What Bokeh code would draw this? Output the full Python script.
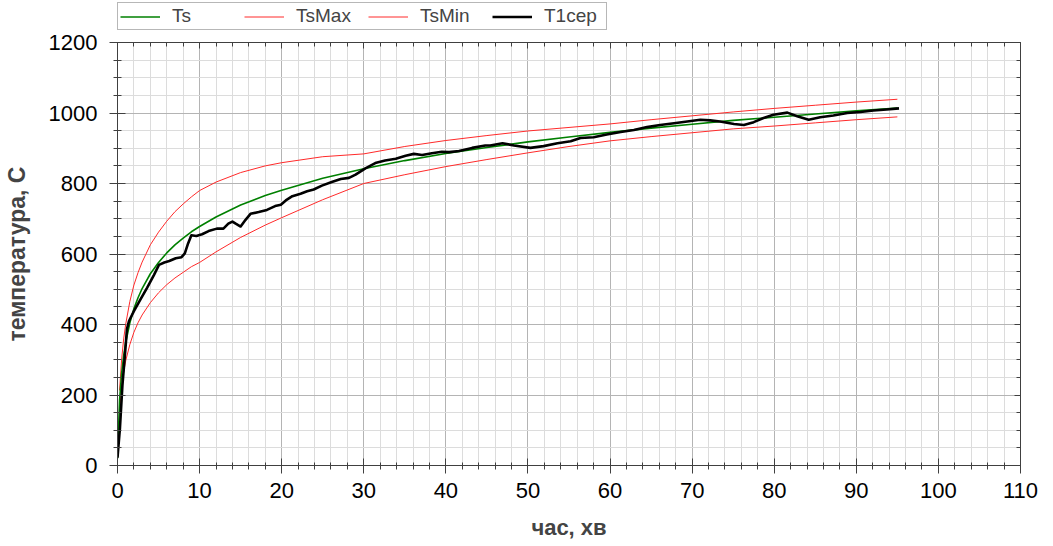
from bokeh.plotting import figure
from bokeh.layouts import column
from bokeh.models import LinearAxis, SingleIntervalTicker, Range1d, Legend, LegendItem
from bokeh.embed import file_html
from bokeh.resources import INLINE

# ---- data ----
t_std = [0, 0.25, 0.5, 0.75, 1, 1.5, 2, 2.5, 3, 4, 5, 6, 7, 8, 9, 10, 12, 15, 18, 20,
         25, 30, 35, 40, 45, 50, 55, 60, 65, 70, 75, 80, 85, 90, 95]
ts = [20, 185, 261, 312, 349, 404, 445, 476, 502, 544, 576, 603, 626, 645, 663, 678, 705, 739, 766, 781,
      815, 842, 865, 885, 902, 918, 932, 945, 957, 968, 979, 988, 997, 1006, 1014]

t_band = [0.25, 0.5, 0.75, 1, 1.5, 2, 2.5, 3, 4, 5, 6, 7, 8, 9, 10, 12, 15, 18, 20,
          25, 30, 35, 40, 45, 50, 55, 60, 65, 70, 75, 80, 85, 90, 95]
ts_max = [213, 300, 359, 401, 465, 512, 547, 577, 626, 662, 693, 720, 742, 762, 780, 804, 831, 850, 859,
          876, 884, 905, 922, 936, 949, 959, 969, 981, 992, 1003, 1013, 1022, 1031, 1039]
ts_min = [157, 222, 265, 297, 343, 378, 405, 427, 462, 490, 513, 532, 548, 564, 576, 606, 647, 682, 703,
          754, 800, 825, 848, 868, 887, 905, 921, 933, 944, 955, 963, 972, 981, 989]

t_meas = [0.0, 0.3, 0.6, 0.9, 1.15, 1.4, 2.0, 2.8, 3.6, 4.45, 5.05, 5.7, 6.3, 7.1, 7.8, 8.2, 8.6, 9.0,
          9.6, 10.3, 11.1, 12.1, 12.9, 13.5, 14.0, 14.4, 15.0, 15.6, 16.2, 17.2, 18.2, 19.2, 19.9, 20.5,
          21.3, 22.3, 23.1, 23.9, 24.9, 26.1, 27.2, 28.2, 29.0, 30.2, 31.4, 32.6, 33.9, 35.1, 36.1, 37.1,
          38.3, 39.5, 40.4, 41.6, 43.2, 44.8, 45.4, 46.9, 48.3, 50.3, 51.9, 53.6, 55.2, 56.4, 58.0, 59.6,
          61.3, 62.9, 64.5, 66.1, 67.8, 69.4, 71.0, 72.2, 73.4, 75.1, 76.3, 77.5, 78.7, 79.9, 81.6, 82.8,
          84.2, 85.6, 87.2, 88.9, 90.5, 92.1, 93.7, 95.2]
t1cep = [22, 107, 228, 312, 387, 410, 438, 471, 504, 541, 569, 576, 580, 588, 591, 602, 630, 653,
         651, 656, 665, 672, 672, 686, 692, 686, 678, 697, 714, 719, 725, 736, 740, 752,
         764, 771, 778, 783, 794, 804, 813, 816, 825, 843, 858, 865, 870, 879, 884, 881,
         886, 890, 889, 892, 901, 908, 908, 914, 908, 901, 906, 914, 920, 929, 931, 939,
         946, 952, 960, 966, 971, 976, 981, 979, 976, 969, 966, 974, 986, 995, 1001, 991,
         981, 988, 993, 1000, 1003, 1007, 1010, 1013]

labels = ["Ts", "TsMax", "TsMin", "T1cep"]
x_label = "час, хв"
y_label = "температура, C"

FONT = "Liberation Sans"
C_TS, C_BAND, C_T1 = "#008000", "#ff2a2a", "black"
W_TS, W_BAND, W_T1 = 1.6, 1, 2.6
NAN = float("nan")

# ---------- main chart ----------
p = figure(width=1053, height=516, output_backend="svg", toolbar_location=None,
           x_range=Range1d(0, 110), y_range=Range1d(0, 1200),
           min_border_left=117, min_border_right=33, min_border_top=12, min_border_bottom=81,
           background_fill_color="white", border_fill_color="white")
p.outline_line_color = "#404040"

xt = SingleIntervalTicker(interval=10, num_minor_ticks=5)
yt = SingleIntervalTicker(interval=200, num_minor_ticks=4)

AX = "#404040"

def style_axis(ax, show_labels, tin, tout, min_in, min_out):
    ax.axis_line_color = AX
    ax.axis_line_width = 1
    ax.major_tick_line_color = AX
    ax.minor_tick_line_color = AX
    ax.major_tick_in = tin
    ax.major_tick_out = tout
    ax.minor_tick_in = min_in
    ax.minor_tick_out = min_out
    ax.major_label_text_font = FONT
    ax.major_label_text_font_size = "22px"
    if show_labels:
        ax.major_label_text_color = "black"
    else:
        ax.major_label_text_color = None
        ax.major_label_standoff = 0

xa = p.xaxis[0]
xa.ticker = xt
style_axis(xa, True, 7, 8, 3, 4)
xa.major_label_standoff = 9
xa.axis_label = x_label
xa.axis_label_text_font = FONT
xa.axis_label_text_font_size = "22px"
xa.axis_label_text_font_style = "bold"
xa.axis_label_standoff = 14

ya = p.yaxis[0]
ya.ticker = yt
style_axis(ya, True, 8, 8, 4, 4)
ya.major_label_standoff = 12
ya.axis_label = y_label
ya.axis_label_text_font = FONT
ya.axis_label_text_font_size = "23px"
ya.axis_label_text_font_style = "bold"
ya.axis_label_standoff = 16

top = LinearAxis(ticker=xt)
style_axis(top, False, 6, 0, 4, 0)
p.add_layout(top, "above")
right = LinearAxis(ticker=yt)
style_axis(right, False, 6, 0, 4, 0)
p.add_layout(right, "right")

p.xgrid.ticker = xt
p.ygrid.ticker = yt
for g in (p.xgrid[0], p.ygrid[0]):
    g.grid_line_color = "#b4b4b4"
    g.grid_line_width = 1
    g.minor_grid_line_color = "#dcdcdc"
    g.minor_grid_line_width = 1

p.line(t_band, ts_min, line_color=C_BAND, line_width=W_BAND)
p.line(t_band, ts_max, line_color=C_BAND, line_width=W_BAND)
p.line(t_std, ts, line_color=C_TS, line_width=W_TS)
p.line(t_meas, t1cep, line_color=C_T1, line_width=W_T1, line_join="round")

# ---------- legend strip above the chart ----------
lg = figure(width=1053, height=30, output_backend="svg", toolbar_location=None,
            x_axis_location=None, y_axis_location=None,
            x_range=Range1d(0, 1), y_range=Range1d(0, 1),
            min_border_left=117, min_border_right=0, min_border_top=0, min_border_bottom=0,
            background_fill_color="white", border_fill_color="white")
lg.outline_line_color = None
lg.grid.visible = False
k_ts = lg.line([NAN], [NAN], line_color=C_TS, line_width=W_TS)
k_max = lg.line([NAN], [NAN], line_color=C_BAND, line_width=W_BAND)
k_min = lg.line([NAN], [NAN], line_color=C_BAND, line_width=W_BAND)
k_t1 = lg.line([NAN], [NAN], line_color=C_T1, line_width=W_T1)

legend = Legend(items=[LegendItem(label=labels[0], renderers=[k_ts]),
                       LegendItem(label=labels[1], renderers=[k_max]),
                       LegendItem(label=labels[2], renderers=[k_min]),
                       LegendItem(label=labels[3], renderers=[k_t1])],
                location="bottom_left", orientation="horizontal",
                glyph_width=40, glyph_height=17, label_width=60, label_height=17,
                label_standoff=12, spacing=12, padding=2, margin=0,
                border_line_color="#707070", border_line_width=1,
                label_text_font=FONT, label_text_font_size="19px",
                background_fill_color="white", background_fill_alpha=1)
lg.add_layout(legend)

layout = column(lg, p, spacing=0)
open("out.html", "w").write(file_html(layout, INLINE))
